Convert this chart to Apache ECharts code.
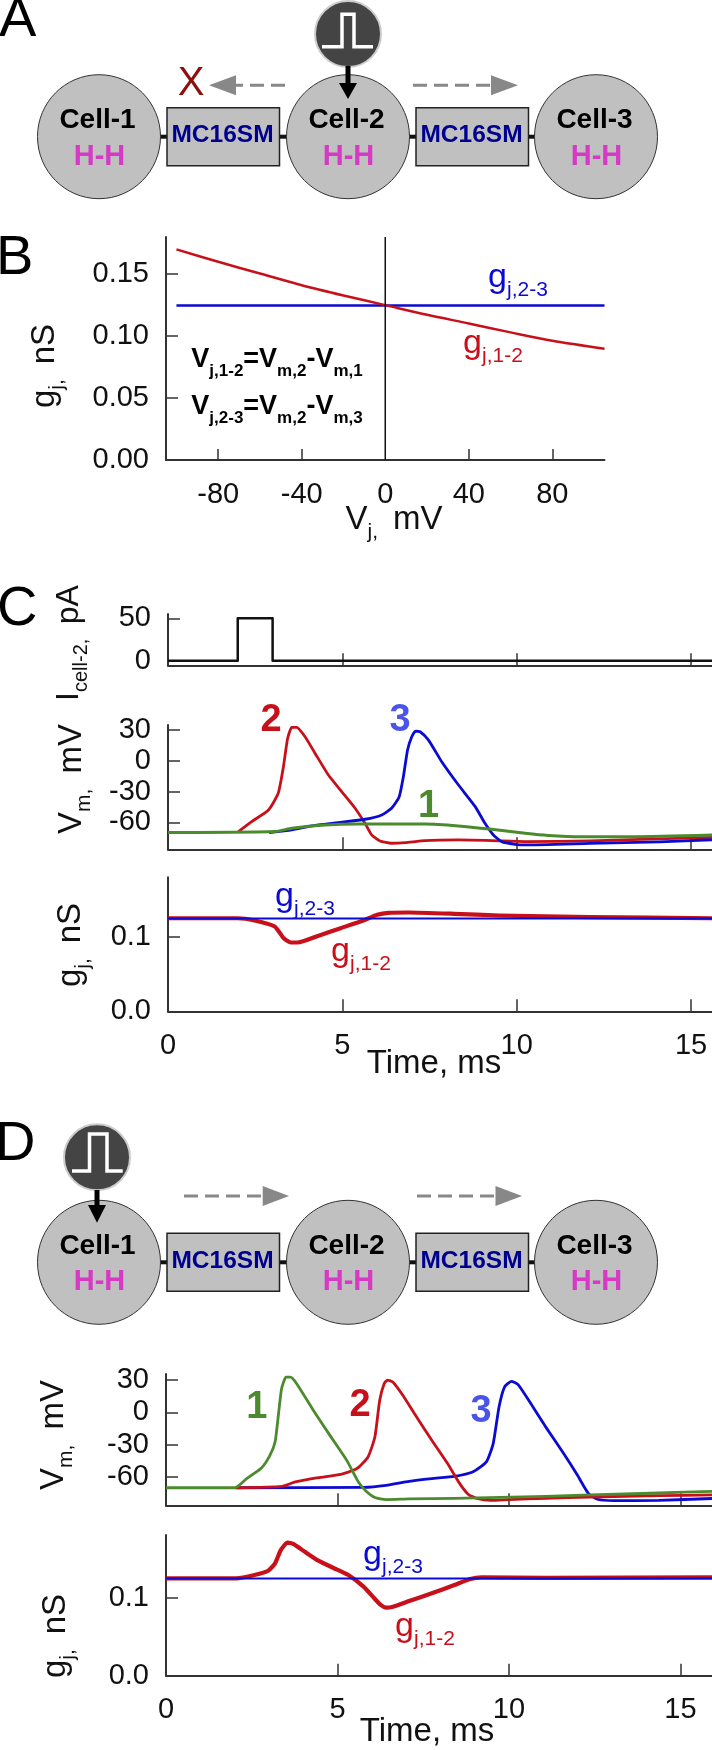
<!DOCTYPE html>
<html><head><meta charset="utf-8">
<style>html,body{margin:0;padding:0;background:#fff}#c{width:712px;height:1750px}</style>
<script src="https://cdn.jsdelivr.net/npm/echarts@6/dist/echarts.min.js"></script>
</head><body><div id="c"></div>
<script>
// ---------- data ----------
const vjRed = [[-100,.170],[-80,.160],[-60,.1505],[-40,.1411],[-20,.1328],[0,.125],[20,.1172],[40,.1102],[60,.1030],[80,.0962],[105,.0898]];
const vjBlue = [[-100,.1247],[105,.1247]];
const vjZero = [[0,0],[0,.18]];
const vjXTicks = [-80,-40,0,40,80];
const vjYTicks = [0,.05,.1,.15];

const stimC = [[0,0],[2,0],[2,50],[3,50],[3,0],[15.6,0]];

const vmC2 = [[2.02,-69],[2.4,-59.3],[2.88,-48],[3.16,-31.7],[3.31,-5.8],[3.43,21.8],[3.55,32.5],[3.69,32.5],[3.93,23.4],[4.22,7.2],[4.6,-13.9],[4.98,-30],[5.36,-46],[5.65,-61],[5.84,-72.3],[6.08,-78.2],[6.41,-80.4],[6.8,-79.8],[7.37,-77.8],[8.33,-77.2],[9.28,-77.8],[10.24,-78.8],[12.1,-78],[15.6,-74.7]];
const vmC3 = [[2.9,-70],[3.55,-67.4],[4.12,-63.5],[4.88,-60.3],[5.65,-57],[6.13,-52.8],[6.41,-46.3],[6.63,-35],[6.75,-15.5],[6.87,10.5],[6.99,23.4],[7.1,29],[7.23,28.3],[7.47,20.2],[7.85,-0.9],[8.33,-23.6],[8.81,-44.7],[9.09,-61],[9.33,-72.3],[9.57,-78.8],[9.95,-81.4],[10.24,-82],[12.1,-80.5],[14.1,-79],[15.6,-77]];
const vmC1 = [[0,-70],[3.07,-69],[3.55,-65.8],[4.5,-62.6],[5.46,-61.6],[7.37,-61.6],[8.33,-63.5],[9.28,-66.8],[10.24,-70.7],[10.9,-72.8],[11.86,-74],[13.4,-74],[15.6,-72.4]];

const gjC12 = [[0,.125],[2,.125],[2.48,.122],[3.06,.114],[3.32,.098],[3.52,.0924],[3.72,.0924],[4.3,.1013],[4.95,.1117],[5.6,.122],[6,.1296],[6.32,.1323],[6.9,.1327],[8.2,.131],[9.5,.1287],[12.1,.1265],[15.6,.125]];
const gjC23 = [[0,.1247],[15.6,.1247]];

const vmD1 = [[0,-70],[2.01,-70],[2.35,-61.6],[2.79,-51.4],[3.03,-40],[3.18,-27.6],[3.27,-4.4],[3.37,21.9],[3.5,32.7],[3.63,32.7],[3.81,26.6],[4.3,1.8],[4.78,-21.4],[5.27,-44.6],[5.61,-64.7],[5.83,-73],[6.09,-79],[6.42,-81],[7.09,-80.4],[8.41,-79.8],[9.74,-79],[11.06,-78],[12.38,-76.7],[14.37,-74.9],[15.92,-73.3]];
const vmD2 = [[2.03,-70],[3.38,-68.7],[3.77,-64.6],[4.44,-60.6],[5.1,-57.5],[5.56,-52.3],[5.89,-41.4],[6.09,-22.9],[6.23,11],[6.36,26.6],[6.46,30],[6.62,28],[6.89,16.5],[7.28,-3],[7.75,-26],[8.21,-47.6],[8.54,-65],[8.81,-76],[9.07,-80],[9.47,-81.7],[10,-81],[11.06,-79.8],[12.38,-78.6],[14.37,-77.3],[15.92,-76.7]];
const vmD3 = [[2.03,-70],[5.76,-69.6],[6.42,-67.7],[7.09,-64],[7.75,-61.5],[8.41,-59.4],[8.94,-55.4],[9.34,-46],[9.54,-29],[9.71,5],[9.87,23.5],[10.07,28.8],[10.26,26],[10.6,10],[11.06,-13],[11.59,-38],[11.99,-58],[12.32,-75.5],[12.58,-80.7],[13.05,-82],[14.37,-81.7],[15.92,-80]];

const gjD12 = [[0,.1253],[2.05,.1253],[2.58,.1296],[2.98,.135],[3.18,.1446],[3.35,.1618],[3.54,.1712],[3.71,.1695],[4.04,.1597],[4.44,.148],[4.97,.1369],[5.36,.1283],[5.76,.1146],[6.03,.1017],[6.26,.091],[6.42,.0876],[6.62,.0888],[7.09,.0961],[7.75,.106],[8.41,.1167],[8.87,.1245],[9.2,.1266],[11.06,.1258],[15.92,.1266]];
const gjD23 = [[0,.1249],[15.92,.1249]];

const timeTicks = [5,10,15];
const timeLabels = [0,5,10,15];
const vmTicks = [-60,-30,0,30];
const stimTicks = [0,50];
const gjTicks = [0,.1];

// ---------- styling ----------
const RED='#c8101a', BLUE='#0a0ad2', GREEN='#4c8a2e', AXIS='#333', FONT='"Liberation Sans", Arial, sans-serif';
const TICK=29;

const chart = echarts.init(document.getElementById('c'), null, {renderer:'canvas'});

const grids=[], xAxes=[], yAxes=[], series=[];
function panel(o){
  const i=grids.length;
  grids.push({left:o.left,top:o.top,width:o.right-o.left,height:o.h,containLabel:false});
  xAxes.push({type:'value',gridIndex:i,min:o.xmin,max:o.xmax,
    axisLine:{onZero:false,lineStyle:{color:AXIS,width:2}},splitLine:{show:false},
    axisTick:{show:true,inside:true,length:o.xTickLen||12,lineStyle:{color:AXIS,width:1.5},customValues:o.xTicks},
    axisLabel:{show:!!o.xLabels,customValues:o.xLabels||[],margin:o.xMargin||20,fontFamily:FONT,fontSize:TICK,color:'#111',
      hideOverlap:false,showMinLabel:true,showMaxLabel:true}});
  yAxes.push({type:'value',gridIndex:i,min:o.ymin,max:o.ymax,
    axisLine:{onZero:false,lineStyle:{color:AXIS,width:2}},splitLine:{show:false},
    axisTick:{show:true,inside:true,length:12,lineStyle:{color:AXIS,width:1.5},customValues:o.yTicks},
    axisLabel:{customValues:o.yLabels,margin:17,fontFamily:FONT,fontSize:TICK,color:'#111',
      hideOverlap:false,showMinLabel:true,showMaxLabel:true,
      formatter:o.fmt||(v=>String(v))}});
  (o.lines||[]).forEach(l=>series.push({type:'line',xAxisIndex:i,yAxisIndex:i,data:l[0],showSymbol:false,
    symbol:'none',smooth:l[3]===undefined?0.18:l[3],clip:true,animation:false,lineStyle:{color:l[1],width:l[2],join:'round'},z:3,silent:true}));
}
panel({left:166,right:604.5,top:237,h:223,xmin:-105,xmax:105,ymin:0,ymax:.18,
  xTicks:[-80,-40,40,80],xLabels:vjXTicks,yTicks:[.05,.1,.15],yLabels:vjYTicks,xTickLen:11,fmt:v=>v.toFixed(2),
  lines:[[vjBlue,BLUE,2.5,0],[vjRed,RED,2.5,0.3],[vjZero,'#111',1.5,0]]});
panel({left:168,right:712,top:614,h:51.3,xmin:0,xmax:15.6,ymin:-5.4,ymax:55.1,
  xTicks:timeTicks,yTicks:[50],yLabels:stimTicks,
  lines:[[stimC,'#111',2.5,0]]});
panel({left:168,right:712,top:725,h:124.3,xmin:0,xmax:15.6,ymin:-86.3,ymax:34.9,
  xTicks:timeTicks,yTicks:vmTicks,yLabels:vmTicks,
  lines:[[vmC2,RED,2.8],[vmC3,BLUE,2.8],[vmC1,GREEN,3]]});
panel({left:168,right:712,top:877.3,h:134,xmin:0,xmax:15.6,ymin:0,ymax:.18,
  xTicks:timeTicks,xLabels:timeLabels,yTicks:[.1],yLabels:gjTicks,fmt:v=>v.toFixed(1),
  lines:[[gjC12,RED,4.2],[gjC23,BLUE,2,0]]});
panel({left:166,right:712,top:1374,h:131.3,xmin:0,xmax:15.92,ymin:-86.3,ymax:35.6,
  xTicks:timeTicks,yTicks:vmTicks,yLabels:vmTicks,
  lines:[[vmD3,BLUE,2.8],[vmD2,RED,2.8],[vmD1,GREEN,2.8]]});
panel({left:166,right:712,top:1535,h:140.7,xmin:0,xmax:15.92,ymin:0,ymax:.181,
  xTicks:timeTicks,xLabels:timeLabels,yTicks:[.1],yLabels:gjTicks,fmt:v=>v.toFixed(1),
  lines:[[gjD12,RED,4.2],[gjD23,BLUE,2,0]]});

// ---------- annotation and schematic ----------
const G=[];
function rich(color,ms,ss,weight){
  return {m:{fontFamily:FONT,fontSize:ms,fontWeight:weight||'normal',fill:color,lineHeight:ms+12,verticalAlign:'middle'},
          s:{fontFamily:FONT,fontSize:ss,fontWeight:weight||'normal',fill:color,lineHeight:ms+12,verticalAlign:'bottom'}};
}
function text(x,y,str,size,color,o){o=o||{};
  G.push({type:'text',x,y,rotation:o.rot||0,z:10,silent:true,style:{text:str,fontFamily:FONT,fontSize:size,fontWeight:o.w||'normal',fill:color,
    align:o.align||'center',verticalAlign:o.va||'middle',rich:o.rich}});
}
function sub(x,y,parts,color,ms,ss,o){o=o||{};
  text(x,y,parts,ms,color,Object.assign({},o,{rich:rich(color,ms,ss,o.w)}));
}
function cell(cx,cy,label){
  G.push({type:'ellipse',shape:{cx,cy,rx:61.5,ry:62},style:{fill:'#c0c0c0',stroke:'#333',lineWidth:1},z:2});
  text(cx-1.5,cy-16,label,28,'#000',{w:'bold'});
  text(cx+0.5,cy+20,'H-H',29,'#d639c4',{w:'bold'});
}
function box(x,cy,label){
  G.push({type:'rect',shape:{x,y:cy-29,width:112.5,height:58},style:{fill:'#c0c0c0',stroke:'#222',lineWidth:1.5},z:2});
  text(x+55.5,cy-1.5,label,24.5,'#000090',{w:'bold'});
}
function conn(x1,x2,y){G.push({type:'line',shape:{x1,y1:y,x2,y2:y},style:{stroke:'#111',lineWidth:4},z:1});}
function stim(cx,cy,xs,yLow,yHigh){
  G.push({type:'ellipse',shape:{cx,cy,rx:33,ry:33},style:{fill:'#444',stroke:'#ccc',lineWidth:2},z:4});
  G.push({type:'polyline',shape:{points:[[xs[0],yLow],[xs[1],yLow],[xs[1],yHigh],[xs[2],yHigh],[xs[2],yLow],[xs[3],yLow]]},style:{stroke:'#fff',lineWidth:3.5,fill:null},z:5});
}
function down(x,y0,y1,y2){
  G.push({type:'line',shape:{x1:x,y1:y0,x2:x,y2:y1},style:{stroke:'#000',lineWidth:5},z:6});
  G.push({type:'polygon',shape:{points:[[x-9,y1],[x+9,y1],[x,y2]]},style:{fill:'#000'},z:6});
}
function gray(xa,xb,xh,xt,y){
  G.push({type:'line',shape:{x1:xa,y1:y,x2:xb,y2:y},style:{stroke:'#888',lineWidth:3,lineDash:[14,7]},z:3});
  G.push({type:'polygon',shape:{points:[[xh,y-10],[xh,y+10],[xt,y]]},style:{fill:'#888'},z:3});
}
function diagram(cy){
  const c=[99,348,596];
  c.forEach((x,i)=>cell(x,cy,'Cell-'+(i+1)));
  [167,416].forEach(x=>box(x,cy,'MC16SM'));
  [[160,167],[280,287],[409,416],[528,535]].forEach(p=>conn(p[0],p[1],cy));
}
// panel letters
text(-1,21,'A',56,'#000',{align:'left'});
text(-4,258.5,'B',56,'#000',{align:'left'});
text(-3,610,'C',56,'#000',{align:'left'});
text(-5,1145,'D',56,'#000',{align:'left'});

diagram(136.7);
stim(348,34,[322,342,354,373],46.7,14.3);
down(348,66,83,99);
gray(285,236,236,209,85.3);
gray(413,491,491,518,85.3);
text(191,84,'X',40,'#8f0f0f');

diagram(1262.3);
stim(97,1157.3,[72,89.5,107,122.7],1171,1134);
down(97,1190,1205,1222.7);
gray(184,262.7,262.7,289,1196);
gray(417,495.5,495.5,522,1196);

// panel B text
sub(518,278,'{m|g}{s|j,2-3}',BLUE,34,21);
sub(493,344,'{m|g}{s|j,1-2}',RED,34,21);
sub(277,360,'{m|V}{s|j,1-2}{m|=V}{s|m,2}{m|-V}{s|m,1}','#000',27,17,{w:'bold'});
sub(277,407,'{m|V}{s|j,2-3}{m|=V}{s|m,2}{m|-V}{s|m,3}','#000',27,17,{w:'bold'});
sub(394,520,'{m|V}{s|j, }{m| mV}','#111',33,21);
sub(45,366,'{m|g}{s|j, }{m| nS}','#111',33,21,{rot:Math.PI/2});

// panel C text
sub(69,643,'{m|I}{s|cell-2, }{m| pA}','#111',32,20,{rot:Math.PI/2});
sub(72,779,'{m|V}{s|m, }{m| mV}','#111',33,21,{rot:Math.PI/2});
text(271,721,'2',38,RED,{w:'bold'});
text(400,721,'3',38,'#4a55e8',{w:'bold'});
text(428.6,806.7,'1',38,GREEN,{w:'bold'});
sub(305,897,'{m|g}{s|j,2-3}',BLUE,34,21);
sub(361,952,'{m|g}{s|j,1-2}',RED,34,21);
sub(71,945,'{m|g}{s|j, }{m| nS}','#111',33,21,{rot:Math.PI/2});
text(434,1064,'Time, ms',33,'#111');

// panel D text
sub(54,1435,'{m|V}{s|m, }{m| mV}','#111',33,21,{rot:Math.PI/2});
text(256.8,1408,'1',38,GREEN,{w:'bold'});
text(360,1406,'2',38,RED,{w:'bold'});
text(481,1411.7,'3',38,'#4a55e8',{w:'bold'});
sub(393,1555,'{m|g}{s|j,2-3}',BLUE,34,21);
sub(425,1627,'{m|g}{s|j,1-2}',RED,34,21);
sub(56,1636,'{m|g}{s|j, }{m| nS}','#111',33,21,{rot:Math.PI/2});
text(427,1732,'Time, ms',33,'#111');

chart.setOption({animation:false,backgroundColor:'#fff',grid:grids,xAxis:xAxes,yAxis:yAxes,series,graphic:{elements:G}});
</script></body></html>
